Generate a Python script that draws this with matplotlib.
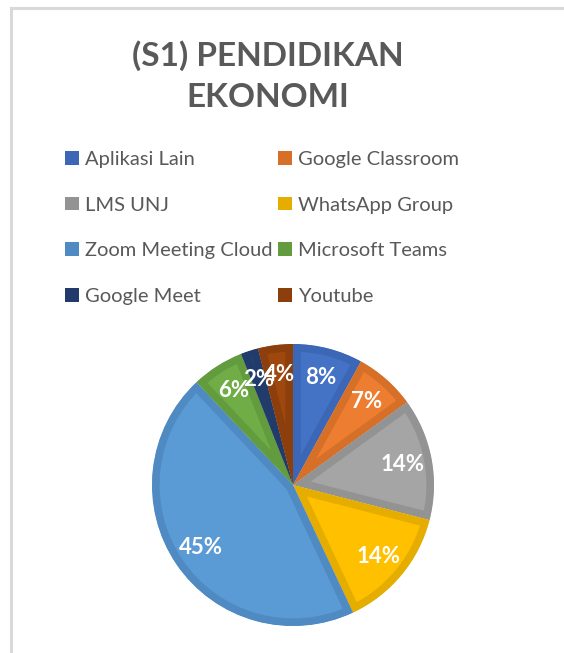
import matplotlib
matplotlib.use("Agg")
import matplotlib.pyplot as plt
import matplotlib.patches as mpatches
from matplotlib.lines import Line2D

# data (percent of respondents)
labels = ["Aplikasi Lain", "Google Classroom", "LMS UNJ", "WhatsApp Group",
          "Zoom Meeting Cloud", "Microsoft Teams", "Google Meet", "Youtube"]
values = [8, 7, 14, 14, 45, 6, 2, 4]
title = "(S1) PENDIDIKAN\nEKONOMI"

# office-style fills and their darker outline shades
fills = ["#4472C4", "#ED7D31", "#A5A5A5", "#FFC000",
         "#5B9BD5", "#70AD47", "#264478", "#9E480E"]
edges = ["#3C67B6", "#D66F27", "#939393", "#E5AD00",
         "#4F8BC2", "#639C3E", "#213C6B", "#8C3F0C"]

plt.rcParams['font.family'] = ['Lato', 'DejaVu Sans']
txt = "#595959"

W, H = 564, 653
fig = plt.figure(figsize=(W / 100, H / 100), dpi=100)

# light grey frame of the chart area
fig.add_artist(Line2D([10.5 / W, 10.5 / W], [0, 1 - 7.5 / H], color="#D9D9D9", lw=2.2))
fig.add_artist(Line2D([10.5 / W, 1], [1 - 7.5 / H, 1 - 7.5 / H], color="#D9D9D9", lw=2.2))

fig.text(268 / W, 1 - 76 / H, title, ha="center", va="center", fontsize=24,
         fontweight="bold", color=txt, linespacing=1.5)

# pie, outline drawn only on the inside of each slice
cx, cy, r = 293, 485, 141
ax = fig.add_axes([(cx - r) / W, (H - cy - r) / H, 2 * r / W, 2 * r / H])
wedges, _, autotexts = ax.pie(values, colors=fills, startangle=90, counterclock=False,
                              autopct="%1.0f%%", pctdistance=0.79,
                              wedgeprops=dict(linewidth=11),
                              textprops=dict(color="white", fontsize=16, fontweight="bold"))
for w, ec in zip(wedges, edges):
    w.set_edgecolor(ec)
    w.set_clip_on(True)
    w.set_clip_path(w)
ax.set_xlim(-1, 1)
ax.set_ylim(-1, 1)

# legend, filled row by row like the original
order = [0, 2, 4, 6, 1, 3, 5, 7]
handles = [mpatches.Patch(facecolor=edges[i], edgecolor="none") for i in order]
fig.legend(handles, [labels[i] for i in order], ncol=2, frameon=False, loc="upper left",
           bbox_to_anchor=(65 / W, 1 - 151 / H), fontsize=14.5, labelcolor=txt,
           handlelength=0.68, handleheight=0.68, handletextpad=0.3,
           columnspacing=0.3, labelspacing=1.42, borderpad=0, borderaxespad=0)

fig.savefig("out.png", dpi=100)
